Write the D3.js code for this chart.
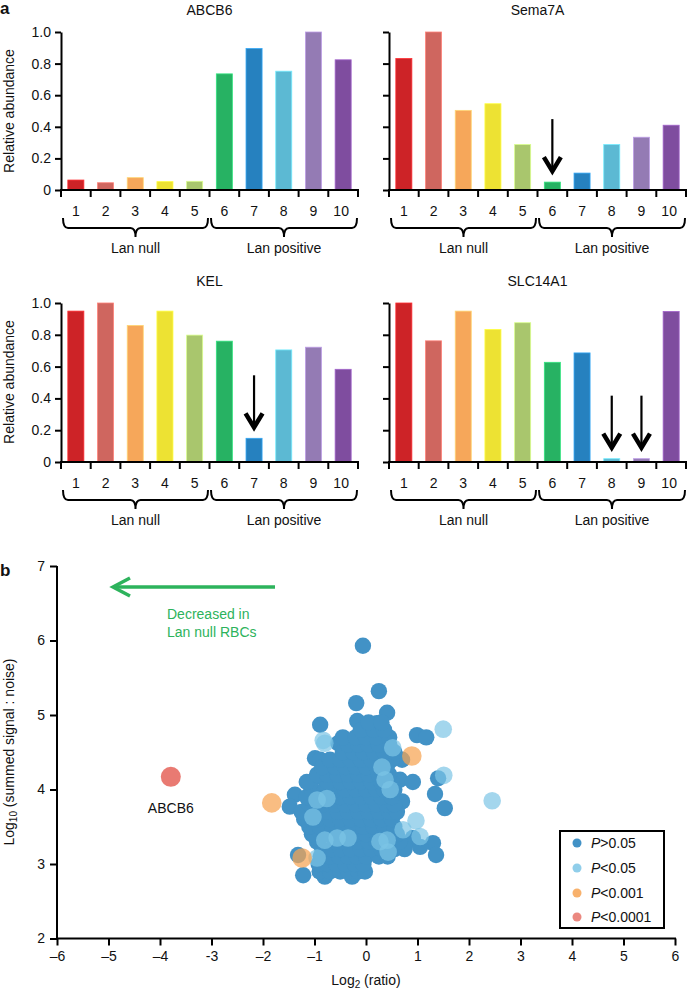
<!DOCTYPE html>
<html><head><meta charset="utf-8">
<script src="https://cdn.jsdelivr.net/npm/d3@7"></script>
<style>body{margin:0;background:#fff} text{font-family:"Liberation Sans",Arial,sans-serif;fill:#111}</style>
</head><body><svg id="c" width="687" height="992"></svg>
<script>
// ---------- data: panel a ----------
const samples = ["1","2","3","4","5","6","7","8","9","10"];
const groupNames = ["Lan null","Lan positive"];
const barColors = ["#cd2327","#cf665f","#f6a75a","#ede233","#a9c66d","#27b263","#2681bf","#5cb9d3","#947bb4","#7f4d9f"];
const panelTitles = ["ABCB6","Sema7A","KEL","SLC14A1"];
const abcb6   = [0.063,0.046,0.078,0.053,0.055,0.735,0.895,0.752,1.0,0.824];
const sema7a  = [0.832,1.0,0.504,0.546,0.288,0.050,0.107,0.288,0.334,0.410];
const kel     = [0.949,1.0,0.859,0.949,0.798,0.760,0.149,0.705,0.722,0.583];
const slc14a1 = [1.0,0.762,0.949,0.834,0.876,0.627,0.686,0.021,0.021,0.947];
const arrowBars = [[],["6"],["7"],["8","9"]];
const yTicksA = [0,0.2,0.4,0.6,0.8,1.0];
const yTickLabelsA = ["0","0.2","0.4","0.6","0.8","1.0"];

// ---------- data: panel b ----------
const xTicksB = [-6,-5,-4,-3,-2,-1,0,1,2,3,4,5,6];
const xTickLabelsB = ["\u20136","\u20135","\u20134","-3","\u20132","\u20131","0","1","2","3","4","5","6"];
const yTicksB = [2,3,4,5,6,7];
const legendLabels = [">0.05","<0.05","<0.001","<0.0001"];
const pointColors = ["#4292c6","#7cc5e6","#f7a352","#e8736a"];
const pGt05 = [
 [-0.06,5.93],[0.25,5.32],[-0.19,5.16],[0.41,5.03],[-0.17,4.92],[0.21,4.89],[-0.89,4.87],[0.99,4.73],[1.17,4.70],
 [-0.54,4.62],[-0.99,4.42],[-0.89,4.40],[0.70,4.40],[-1.09,4.09],[-0.95,4.17],[0.66,4.13],[0.91,4.10],[1.40,4.15],
 [1.34,3.94],[1.53,3.75],[0.70,3.84],[-1.38,3.93],[-1.48,3.77],[1.30,3.28],[1.36,3.12],[0.91,3.35],[1.05,3.23],
 [-1.32,3.12],[-1.22,2.85],[-0.80,2.83],[-0.27,2.83],
 [-0.9,2.9],[-0.7,2.9],[-0.5,2.9],[-0.35,2.9],[-0.15,2.9],[-0.02,2.9],
 [-0.92,3.0],[-0.75,3.0],[-0.58,3.0],[-0.4,3.0],[-0.22,3.0],[-0.05,3.0],
 [-0.88,3.1],[-0.7,3.1],[-0.52,3.1],[-0.35,3.1],[-0.18,3.1],[0.0,3.1],[0.25,3.1],[0.42,3.1],
 [-0.85,3.2],[-0.68,3.2],[-0.5,3.2],[-0.3,3.2],[-0.1,3.2],[0.1,3.2],[0.3,3.2],[0.55,3.2],[0.75,3.2],
 [-0.95,3.3],[-0.6,3.3],[-0.45,3.3],[-0.15,3.3],[0.05,3.3],[0.2,3.3],[0.5,3.3],[0.65,3.3],
 [-1.05,3.4],[-0.8,3.4],[-0.55,3.4],[-0.35,3.4],[-0.2,3.4],[0.0,3.4],[0.2,3.4],[0.4,3.4],[0.6,3.4],
 [-1.1,3.5],[-0.9,3.5],[-0.65,3.5],[-0.45,3.5],[-0.25,3.5],[-0.05,3.5],[0.15,3.5],[0.35,3.5],[0.55,3.5],
 [-1.2,3.6],[-0.95,3.6],[-0.7,3.6],[-0.5,3.6],[-0.3,3.6],[-0.1,3.6],[0.1,3.6],[0.3,3.6],[0.5,3.6],
 [-1.25,3.7],[-1.0,3.7],[-0.75,3.7],[-0.55,3.7],[-0.35,3.7],[-0.15,3.7],[0.05,3.7],[0.25,3.7],[0.45,3.7],[0.6,3.7],
 [-1.1,3.8],[-0.85,3.8],[-0.6,3.8],[-0.4,3.8],[-0.2,3.8],[0.0,3.8],[0.2,3.8],[0.4,3.8],[0.55,3.8],
 [-1.15,3.9],[-0.95,3.9],[-0.7,3.9],[-0.5,3.9],[-0.3,3.9],[-0.1,3.9],[0.1,3.9],[0.3,3.9],[0.5,3.9],
 [-1.05,4.0],[-0.8,4.0],[-0.6,4.0],[-0.4,4.0],[-0.2,4.0],[0.0,4.0],[0.2,4.0],[0.35,4.0],[0.55,4.0],
 [-1.15,4.1],[-0.75,4.1],[-0.5,4.1],[-0.3,4.1],[-0.1,4.1],[0.1,4.1],[0.3,4.1],[0.5,4.1],
 [-0.95,4.2],[-0.75,4.2],[-0.55,4.2],[-0.35,4.2],[-0.15,4.2],[0.05,4.2],[0.25,4.2],[0.45,4.2],
 [-0.85,4.3],[-0.6,4.3],[-0.4,4.3],[-0.2,4.3],[0.0,4.3],[0.2,4.3],[0.4,4.3],
 [-0.7,4.4],[-0.5,4.4],[-0.3,4.4],[-0.1,4.4],[0.1,4.4],[0.3,4.4],[0.5,4.4],
 [-0.45,4.5],[-0.25,4.5],[-0.05,4.5],[0.15,4.5],[0.35,4.5],[0.55,4.5],
 [-0.35,4.6],[-0.15,4.6],[0.05,4.6],[0.25,4.6],[0.45,4.6],
 [-0.45,4.7],[-0.2,4.7],[0.0,4.7],[0.2,4.7],[0.45,4.7],
 [-0.1,4.8],[0.15,4.8],[0.35,4.8],
 [0.05,4.9],[0.3,4.9]
];
const pLt05 = [
 [1.50,4.81],[1.51,4.19],[2.45,3.85],[0.97,3.58],[-0.95,3.08],[-0.80,3.32],[-0.56,3.35],[-0.35,3.35],
 [0.31,4.30],[0.37,4.13],[0.47,4.0],[-0.95,3.86],[-0.76,3.88],[-1.03,3.63],[0.72,3.46],[1.05,3.37],
 [0.27,3.30],[0.41,3.32],[0.43,3.16],[0.52,4.56],[-0.80,4.62],[-0.83,4.66]
];
const pLt001 = [[0.89,4.45],[-1.83,3.82],[-1.24,3.08]];
const pLt0001 = [[-3.79,4.17]];

// ---------- drawing ----------
const svg = d3.select("#c");
const FS = 14;
const FF = "Liberation Sans";

function drawBarPanel(values, title, px0, px1, ptop, pbot, showY, arrows) {
  const x = d3.scaleBand().domain(samples).range([px0, px1]).paddingInner(0.46).paddingOuter(0.23);
  const y = d3.scaleLinear().domain([0, 1]).range([pbot, ptop]);
  const step = x.step();
  const g = svg.append("g");
  g.selectAll("rect").data(values).join("rect")
    .attr("x", (d, i) => x(samples[i])).attr("width", x.bandwidth())
    .attr("y", d => y(d)).attr("height", d => pbot - y(d))
    .attr("fill", (d, i) => barColors[i])
    .attr("stroke", (d, i) => d3.color(barColors[i]).brighter(0.7)).attr("stroke-width", 0.8);
  // y axis
  const ya = d3.axisLeft(y).tickValues(yTicksA).tickSize(6).tickSizeOuter(0).tickPadding(4)
    .tickFormat((d, i) => showY ? yTickLabelsA[i] : "");
  const yg = g.append("g").attr("transform", `translate(${px0},0)`).call(ya);
  yg.select(".domain").attr("stroke-width", 2).attr("stroke", "#000");
  yg.selectAll(".tick line").attr("stroke-width", 2).attr("stroke", "#000");
  yg.selectAll("text").attr("font-size", FS).attr("font-family", FF).attr("fill", "#111");
  // x axis
  g.append("line").attr("x1", px0).attr("x2", px1).attr("y1", pbot).attr("y2", pbot)
    .attr("stroke", "#000").attr("stroke-width", 2);
  for (let i = 0; i <= samples.length; i++) {
    const tx = px0 + i * step;
    g.append("line").attr("x1", tx).attr("x2", tx).attr("y1", pbot - 1).attr("y2", pbot + 7)
      .attr("stroke", "#000").attr("stroke-width", 2);
  }
  g.selectAll("text.xl").data(samples).join("text").attr("class", "xl")
    .attr("x", d => x(d) + x.bandwidth() / 2 - (d === "10" ? 2 : 0)).attr("y", pbot + 26)
    .attr("text-anchor", "middle").attr("font-size", FS).text(d => d);
  // title
  g.append("text").attr("x", (px0 + px1) / 2).attr("y", ptop - 17).attr("text-anchor", "middle")
    .attr("font-size", FS).text(title);
  // braces
  const mid = px0 + 5 * step;
  const bt = pbot + 28, bl = pbot + 38, bp = pbot + 47;
  function brace(a, b) {
    const c = (a + b) / 2;
    const p = `M${a},${bt} Q${a},${bl} ${a + 5},${bl} L${c - 5},${bl} Q${c},${bl} ${c},${bp} Q${c},${bl} ${c + 5},${bl} L${b - 5},${bl} Q${b},${bl} ${b},${bt}`;
    g.append("path").attr("d", p).attr("fill", "none").attr("stroke", "#000").attr("stroke-width", 2);
    return c;
  }
  const c1 = brace(px0 + 2, mid - 1.5);
  const c2 = brace(mid + 1.5, px1 - 1);
  g.append("text").attr("x", c1).attr("y", pbot + 63).attr("text-anchor", "middle").attr("font-size", FS).text(groupNames[0]);
  g.append("text").attr("x", c2).attr("y", pbot + 63).attr("text-anchor", "middle").attr("font-size", FS).text(groupNames[1]);
  // arrows
  arrows.forEach(s => {
    const i = samples.indexOf(s);
    const cx = x(s) + x.bandwidth() / 2;
    const tip = y(values[i]) - 9;
    g.append("line").attr("x1", cx).attr("x2", cx).attr("y1", tip - 54).attr("y2", tip - 3)
      .attr("stroke", "#000").attr("stroke-width", 2.2);
    g.append("path").attr("d", `M${cx - 8.5},${tip - 16} L${cx},${tip - 2} L${cx + 8.5},${tip - 16}`)
      .attr("fill", "none").attr("stroke", "#000").attr("stroke-width", 4.5)
      .attr("stroke-linejoin", "miter").attr("stroke-linecap", "butt");
  });
}

drawBarPanel(abcb6, panelTitles[0], 61, 358, 32, 190, true, arrowBars[0]);
drawBarPanel(sema7a, panelTitles[1], 389, 686, 32, 190, false, arrowBars[1]);
drawBarPanel(kel, panelTitles[2], 61, 358, 303, 462, true, arrowBars[2]);
drawBarPanel(slc14a1, panelTitles[3], 389, 686, 303, 462, false, arrowBars[3]);

// y titles panel a
[111, 382].forEach(cy => {
  svg.append("text").attr("transform", `translate(14,${cy}) rotate(-90)`).attr("text-anchor", "middle")
    .attr("font-size", FS).text("Relative abundance");
});
// panel letters
svg.append("text").attr("x", 0).attr("y", 14).attr("font-size", 17).attr("font-weight", "bold").text("a");
svg.append("text").attr("x", 0).attr("y", 576).attr("font-size", 17).attr("font-weight", "bold").text("b");

// ---------- panel b ----------
const xS = d3.scaleLinear().domain([-6, 6]).range([57, 675]);
const yS = d3.scaleLinear().domain([2, 7]).range([938.5, 566]);
const gb = svg.append("g");
const xa = gb.append("g").attr("transform", "translate(0,938.5)")
  .call(d3.axisBottom(xS).tickValues(xTicksB).tickFormat((d, i) => xTickLabelsB[i]).tickSize(7).tickSizeOuter(0).tickPadding(6));
const yaB = gb.append("g").attr("transform", "translate(57,0)")
  .call(d3.axisLeft(yS).tickValues(yTicksB).tickFormat(d => String(d)).tickSize(7).tickSizeOuter(0).tickPadding(5));
[xa, yaB].forEach(a => {
  a.select(".domain").attr("stroke-width", 2).attr("stroke", "#000");
  a.selectAll(".tick line").attr("stroke-width", 2).attr("stroke", "#000");
  a.selectAll("text").attr("font-size", FS).attr("font-family", FF).attr("fill", "#111");
});
xa.select(".domain").attr("d", "M56,0H676");
yaB.select(".domain").attr("d", "M0,566V939.5");

// points
const layers = [[pGt05, 0, 8.2, 1], [pLt05, 1, 8.8, 0.7], [pLt001, 2, 9.8, 0.72], [pLt0001, 3, 10, 0.95]];
layers.forEach(([pts, ci, r, op]) => {
  gb.append("g").selectAll("circle").data(pts).join("circle")
    .attr("cx", d => xS(d[0])).attr("cy", d => yS(d[1])).attr("r", r)
    .attr("fill", pointColors[ci]).attr("fill-opacity", op);
});
// ABCB6 label
gb.append("text").attr("x", xS(pLt0001[0][0])).attr("y", yS(pLt0001[0][1]) + 36).attr("text-anchor", "middle")
  .attr("font-size", FS).text("ABCB6");

// green arrow + text
const green = "#2db35c";
gb.append("line").attr("x1", 275).attr("x2", 114).attr("y1", 587).attr("y2", 587).attr("stroke", green).attr("stroke-width", 3.5);
gb.append("path").attr("d", "M130,578 L113,587 L130,596").attr("fill", "none").attr("stroke", green).attr("stroke-width", 3.5);
gb.append("text").attr("x", 167).attr("y", 619).attr("font-size", FS).style("fill", green).text("Decreased in");
gb.append("text").attr("x", 167).attr("y", 637).attr("font-size", FS).style("fill", green).text("Lan null RBCs");

// axis titles
const xt = gb.append("text").attr("x", 366).attr("y", 985).attr("text-anchor", "middle").attr("font-size", FS);
xt.append("tspan").text("Log");
xt.append("tspan").attr("font-size", 10).attr("dy", 3).text("2");
xt.append("tspan").attr("dy", -3).text(" (ratio)");
const yt = gb.append("text").attr("transform", "translate(14,752) rotate(-90)").attr("text-anchor", "middle").attr("font-size", FS);
yt.append("tspan").text("Log");
yt.append("tspan").attr("font-size", 10).attr("dy", 3).text("10");
yt.append("tspan").attr("dy", -3).text(" (summed signal : noise)");

// legend
const lg = gb.append("g");
lg.append("rect").attr("x", 560).attr("y", 831).attr("width", 104).attr("height", 97)
  .attr("fill", "#fff").attr("stroke", "#000").attr("stroke-width", 2);
const ly = [843, 868, 893, 917];
legendLabels.forEach((lab, i) => {
  lg.append("circle").attr("cx", 577).attr("cy", ly[i]).attr("r", 4.5).attr("fill", pointColors[i]).attr("fill-opacity", i === 0 ? 1 : 0.85);
  const t = lg.append("text").attr("x", 591).attr("y", ly[i] + 5).attr("font-size", FS);
  t.append("tspan").attr("font-style", "italic").text("P");
  t.append("tspan").text(lab);
});
</script></body></html>
